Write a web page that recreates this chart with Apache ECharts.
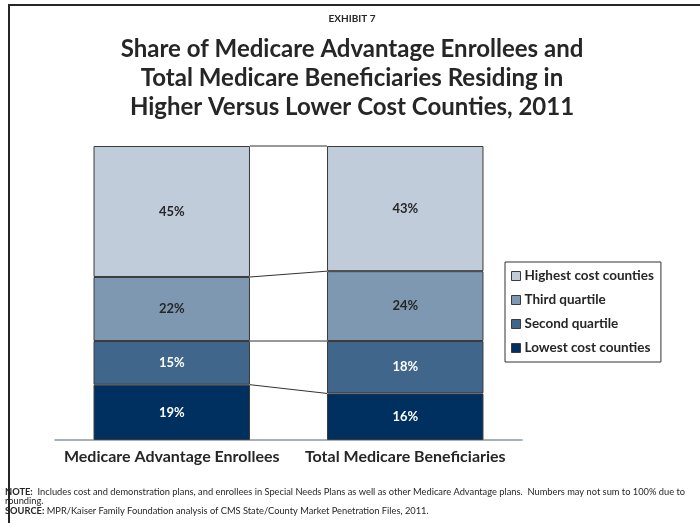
<!DOCTYPE html>
<html>
<head>
<meta charset="utf-8">
<style>
  html, body { margin: 0; padding: 0; background: #fff; }
  #chart { width: 700px; height: 523px; }
</style>
<script src="https://cdn.jsdelivr.net/npm/echarts@6/dist/echarts.min.js"></script>
</head>
<body>
<div id="chart"></div>
<script>
// Categories (bars) and series (stack segments, bottom to top)
const categories = ['Medicare Advantage Enrollees', 'Total Medicare Beneficiaries'];
const seriesNames = ['Lowest cost counties', 'Second quartile', 'Third quartile', 'Highest cost counties'];
const lowestCost = [19, 16];
const secondQuartile = [15, 18];
const thirdQuartile = [22, 24];
const highestCost = [45, 43];
const seriesColors = ['#00305f', '#41668c', '#7e98b2', '#c0ccda'];
const labelColors = ['#ffffff', '#ffffff', '#262626', '#262626'];

const stacks = [lowestCost, secondQuartile, thirdQuartile, highestCost];
// Bars are stacked to their full (rounded) total, so each bar fills the plot
const totals = categories.map((_, i) => stacks.reduce((s, arr) => s + arr[i], 0));
const yMax = Math.max(...totals);

const FONT = 'Lato, "Liberation Sans", sans-serif';
const BAR_FRAC = 0.67;

const chart = echarts.init(document.getElementById('chart'), null, { renderer: 'canvas' });

const barSeries = stacks.map((arr, k) => ({
  name: seriesNames[k],
  type: 'bar',
  stack: 'share',
  barWidth: (BAR_FRAC * 100) + '%',
  data: arr,
  itemStyle: { color: seriesColors[k], borderColor: '#3a3a3a', borderWidth: 1 },
  label: {
    show: true,
    position: 'inside',
    formatter: p => p.value + '%',
    color: labelColors[k],
    fontFamily: FONT,
    fontWeight: 'bold',
    fontSize: 13
  },
  emphasis: { disabled: true },
  z: 3
}));

// Connector lines between the segment boundaries of the two bars
const boundaryLevels = [];
for (let k = 1; k <= stacks.length; k++) {
  const cum = categories.map((_, i) => stacks.slice(0, k).reduce((s, arr) => s + arr[i], 0));
  boundaryLevels.push(cum);
}
const connectorSeries = {
  type: 'custom',
  silent: true,
  z: 2,
  data: boundaryLevels.map(c => [c[0], c[1]]),
  renderItem: (params, api) => {
    const band = api.size([1, 0])[0];
    const half = band * BAR_FRAC / 2;
    const p1 = api.coord([0, api.value(0)]);
    const p2 = api.coord([1, api.value(1)]);
    return {
      type: 'line',
      shape: { x1: p1[0] + half, y1: p1[1], x2: p2[0] - half, y2: p2[1] },
      style: { stroke: '#333333', lineWidth: 1 }
    };
  }
};

const legendOrder = seriesNames.slice().reverse();

chart.setOption({
  animation: false,
  backgroundColor: '#ffffff',
  legend: {
    data: legendOrder,
    orient: 'vertical',
    left: 505, top: 262,
    itemWidth: 9, itemHeight: 9, itemGap: 10,
    icon: 'rect',
    padding: [7, 7, 7, 6],
    borderColor: '#333333', borderWidth: 1,
    itemStyle: { borderColor: '#3a3a3a', borderWidth: 1 },
    textStyle: { fontFamily: FONT, fontWeight: 'bold', fontSize: 13.5, color: '#262626', padding: [0, 0, 0, -1] },
    selectedMode: false
  },
  grid: { left: 55, right: 178, top: 146, bottom: 83 },
  xAxis: {
    type: 'category',
    data: categories,
    axisLine: { lineStyle: { color: '#8a96a8', width: 1.5 } },
    axisTick: { show: false },
    axisLabel: { interval: 0, fontFamily: FONT, fontWeight: 'bold', fontSize: 16, color: '#262626', margin: 9 }
  },
  yAxis: {
    type: 'value', min: 0, max: yMax,
    show: false,
    splitLine: { show: false }
  },
  series: [...barSeries, connectorSeries],
  graphic: [
    {
      type: 'rect',
      shape: { x: 9, y: 5, width: 710, height: 540 },
      style: { fill: null, stroke: '#262626', lineWidth: 2 },
      silent: true
    },
    {
      type: 'text', x: 352, y: 14,
      style: {
        text: 'EXHIBIT 7', align: 'center',
        font: 'bold 10px ' + FONT, fill: '#262626'
      }
    },
    {
      type: 'text', x: 352, y: 35,
      style: {
        text: 'Share of Medicare Advantage Enrollees and\nTotal Medicare Beneficiaries Residing in\nHigher Versus Lower Cost Counties, 2011',
        align: 'center', lineHeight: 29,
        font: 'bold 24px ' + FONT, fill: '#262626'
      }
    },
    {
      type: 'text', x: 5, y: 487,
      style: {
        rich: {
          b: { fontFamily: FONT, fontWeight: 'bold', fontSize: 9.3, lineHeight: 9.6, fill: '#262626' },
          n: { fontFamily: FONT, fontSize: 9.3, lineHeight: 9.6, fill: '#262626' }
        },
        text: '{b|NOTE:}{n|  Includes cost and demonstration plans, and enrollees in Special Needs Plans as well as other Medicare Advantage plans.  Numbers may not sum to 100% due to}\n{n|rounding.}\n{b|SOURCE:}{n| MPR/Kaiser Family Foundation analysis of CMS State/County Market Penetration Files, 2011.}'
      }
    }
  ]
});
</script>
</body>
</html>
